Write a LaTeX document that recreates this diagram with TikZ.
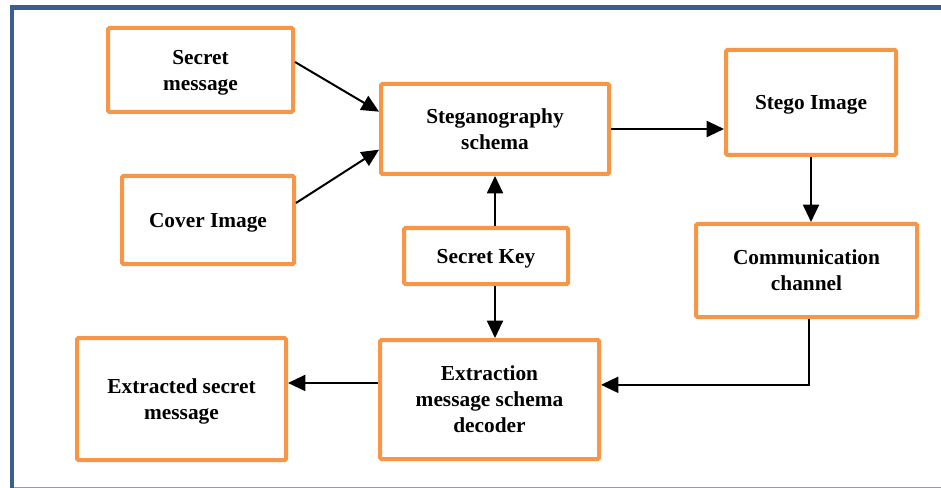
\documentclass[tikz,border=0pt]{standalone}
\usepackage{fontspec}
\setmainfont{Liberation Serif}
\usetikzlibrary{arrows.meta}

\definecolor{boxorange}{HTML}{F79646}
\definecolor{frameblue}{HTML}{3B5E8C}
\definecolor{framegray}{HTML}{8C9DB5}

\tikzset{
  block/.style={draw=boxorange, line width=3pt, rounded corners=1pt, fill=white,
    align=center, text depth=0pt, font=\fontsize{16}{19.5}\selectfont\bfseries},
  arr/.style={draw=black, line width=1.5pt, -{Triangle[length=13pt,width=12pt]}}
}

\begin{document}
\begin{tikzpicture}[x=0.75pt,y=-0.75pt]
\useasboundingbox (0,0) rectangle (941,488);

\draw[framegray, line width=1pt] (12,487.5) -- (941,487.5);
\draw[frameblue, line width=3.5pt] (12,488) -- (12,7.5) -- (941,7.5);

\node[block, minimum width=138.75pt, minimum height=63pt] (msg) at (200.5,70) {Secret\\message};
\node[block, minimum width=129pt, minimum height=66pt] (cover) at (208,220) {Cover Image};
\node[block, minimum width=171pt, minimum height=67.5pt] (steg) at (495,129) {Steganography\\schema};
\node[block, minimum width=127.5pt, minimum height=78.75pt] (stego) at (811,102.5) {Stego Image};
\node[block, minimum width=165.75pt, minimum height=69.75pt] (comm) at (806.5,270.5) {Communication\\channel};
\node[block, minimum width=123pt, minimum height=42pt] (key) at (486,256) {Secret Key};
\node[block, minimum width=164.25pt, minimum height=89.25pt] (ext) at (489.5,399.5) {Extraction\\message schema\\decoder};
\node[block, minimum width=156.75pt, minimum height=91.5pt] (out) at (181.5,399) {Extracted secret\\message};

\draw[arr] ([yshift=6pt]msg.east) -- ([yshift=13pt]steg.west);
\draw[arr] ([yshift=12.75pt]cover.east) -- ([yshift=-15.5pt]steg.west);
\draw[arr] (steg.east) -- (steg.east -| stego.west);
\draw[arr] (stego.south) -- (stego.south |- comm.north);
\draw[arr] ([xshift=2pt]comm.south) |- ([yshift=11pt]ext.east);
\draw[arr] ([yshift=12.4pt]ext.west) -- ([yshift=12.4pt]ext.west -| out.east);
\draw[arr] (key.north -| steg.south) -- (steg.south);
\draw[arr] (key.south -| steg.south) -- (steg.south |- ext.north);

\end{tikzpicture}
\end{document}
